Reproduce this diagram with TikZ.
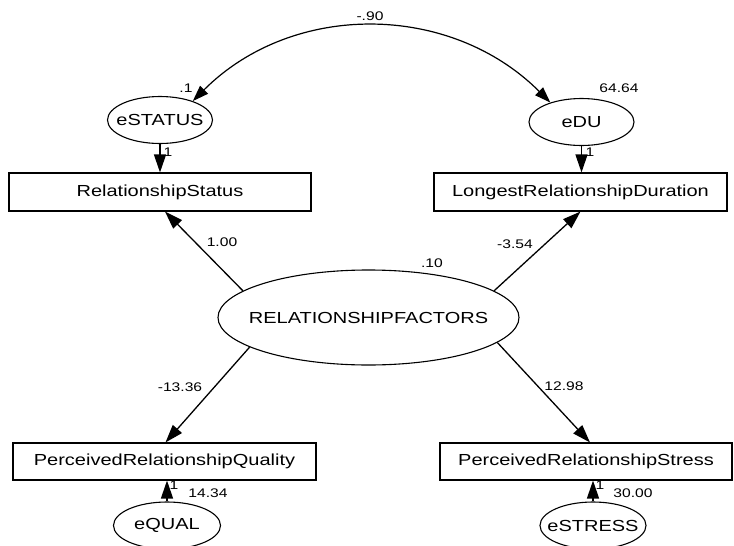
\documentclass[tikz,border=0pt]{standalone}
\usepackage{fontspec}
\usetikzlibrary{arrows.meta,calc,shapes.geometric}
\newfontfamily\amosfont{Liberation Sans}[FakeStretch=1.25]
% zero-width label so an ellipse keeps its given size
\newcommand\ztext[1]{\makebox[0pt]{#1}}
\begin{document}
\begin{tikzpicture}[x=1pt,y=-1pt,
  every node/.style={inner sep=0pt},
  observed/.style={draw,line width=1.1pt,rectangle,minimum height=38pt,
    font=\amosfont\fontsize{16}{18}\selectfont},
  latent/.style={draw,line width=1.1pt,ellipse,minimum width=105pt,minimum height=47pt,
    font=\amosfont\fontsize{16}{18}\selectfont},
  coef/.style={font=\amosfont\fontsize{12.5}{14}\selectfont},
  path arrow/.style={line width=1.3pt,-{Triangle[length=18pt,width=12pt]}},
  cov arrow/.style={line width=1.2pt,{Triangle[length=16pt,width=11pt]}-{Triangle[length=16pt,width=11pt]}}
]
\useasboundingbox (0,0) rectangle (734,546);
\fill[white] (0,0) rectangle (734,546);

% observed variables
\node[observed,minimum width=302pt] (rs) at (160,192) {RelationshipStatus};
\node[observed,minimum width=293pt] (lr) at (580.5,192) {LongestRelationshipDuration};
\node[observed,minimum width=303pt,minimum height=37pt] (pq) at (164.5,461.5) {PerceivedRelationshipQuality};
\node[observed,minimum width=292pt,minimum height=37pt] (ps) at (586,461.5) {PerceivedRelationshipStress};

% latent factor and error terms
\node[latent,minimum width=301pt,minimum height=95pt] (rf) at (368.5,317.5) {\ztext{RELATIONSHIPFACTORS}};
\node[latent] (es) at (160,120) {\ztext{eSTATUS}};
\node[latent] (edu) at (581.5,122) {\ztext{eDU}};
\node[latent,minimum width=107pt] (eq) at (167,525.5) {\ztext{eQUAL}};
\node[latent,minimum width=106pt] (est) at (593,525.5) {\ztext{eSTRESS}};

% variances
\node[coef] (vs) at (186,88) {.1};
\node[coef] (vdu) at (619,88) {64.64};
\node[coef] (vrf) at (432,263) {.10};
\node[coef] (vq) at (208,493) {14.34};
\node[coef] (vst) at (633,493) {30.00};

% covariance between error terms
\draw[cov arrow] (es.30) .. controls +(100,-100) and +(-100,-100) .. (edu.148);
\node[coef] (cov) at (370,16) {-.90};

% error paths (fixed to 1)
\draw[path arrow] (es.south) -- (es.south |- rs.north);
\node[coef] (w1) at (168,152) {1};
\draw[path arrow] (edu.south) -- (edu.south |- lr.north);
\node[coef] (w2) at (590,152) {1};
\draw[path arrow] (eq.north) -- (eq.north |- pq.south);
\node[coef] (w3) at (174,485) {1};
\draw[path arrow] (est.north) -- (est.north |- ps.south);
\node[coef] (w4) at (600,485) {1};

% factor loadings
\draw[path arrow] (rf.168) -- ($(rs.south)+(5,0)$);
\node[coef] (l1) at (222,242) {1.00};
\draw[path arrow] (rf.12) -- (lr.south);
\node[coef] (l2) at (515,244) {-3.54};
\draw[path arrow] (rf.194) -- ($(pq.north)+(1,0)$);
\node[coef] (l3) at (180,387) {-13.36};
\draw[path arrow] (rf.349) -- ($(ps.north)+(4,0)$);
\node[coef] (l4) at (564,386) {12.98};
\end{tikzpicture}
\end{document}
